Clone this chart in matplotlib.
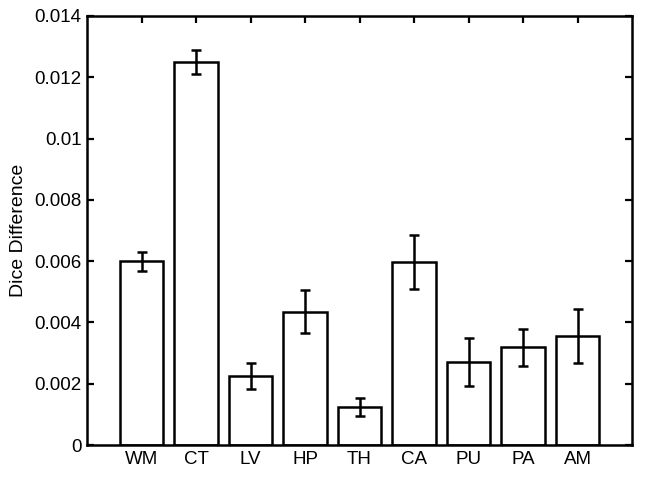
import matplotlib
matplotlib.use("Agg")
import matplotlib.pyplot as plt

labels = ["WM", "CT", "LV", "HP", "TH", "CA", "PU", "PA", "AM"]
means = [0.0060, 0.0125, 0.00226, 0.00435, 0.00124, 0.00597, 0.00272, 0.00319, 0.00357]
errs = [0.00031, 0.00039, 0.00042, 0.0007, 0.00029, 0.00088, 0.00078, 0.0006, 0.00088]

plt.rcParams['font.family'] = ['Liberation Sans', 'DejaVu Sans']

fig = plt.figure(figsize=(6.45, 4.78), dpi=100)
ax = fig.add_axes([87 / 645, 1 - 445 / 478, 545 / 645, 429 / 478])

x = list(range(1, len(labels) + 1))
ax.bar(x, means, width=0.8, color="white", edgecolor="black", linewidth=1.8, zorder=2)
ax.errorbar(x, means, yerr=errs, fmt="none", ecolor="black", elinewidth=1.8,
            capsize=3.8, capthick=1.8, zorder=3)

ax.set_xlim(0, 10)
ax.set_ylim(0, 0.014)
ax.set_xticks(x)
ax.set_xticklabels(labels)
ax.set_yticks([0, 0.002, 0.004, 0.006, 0.008, 0.01, 0.012, 0.014])
ax.set_yticklabels(["0", "0.002", "0.004", "0.006", "0.008", "0.01", "0.012", "0.014"])
ax.tick_params(direction="in", length=5, width=1.6, labelsize=13.5, top=True, right=True, pad=4)
for s in ax.spines.values():
    s.set_linewidth(1.8)
ax.set_ylabel("Dice Difference", fontsize=14, labelpad=5)

fig.savefig("out.png", dpi=100)
